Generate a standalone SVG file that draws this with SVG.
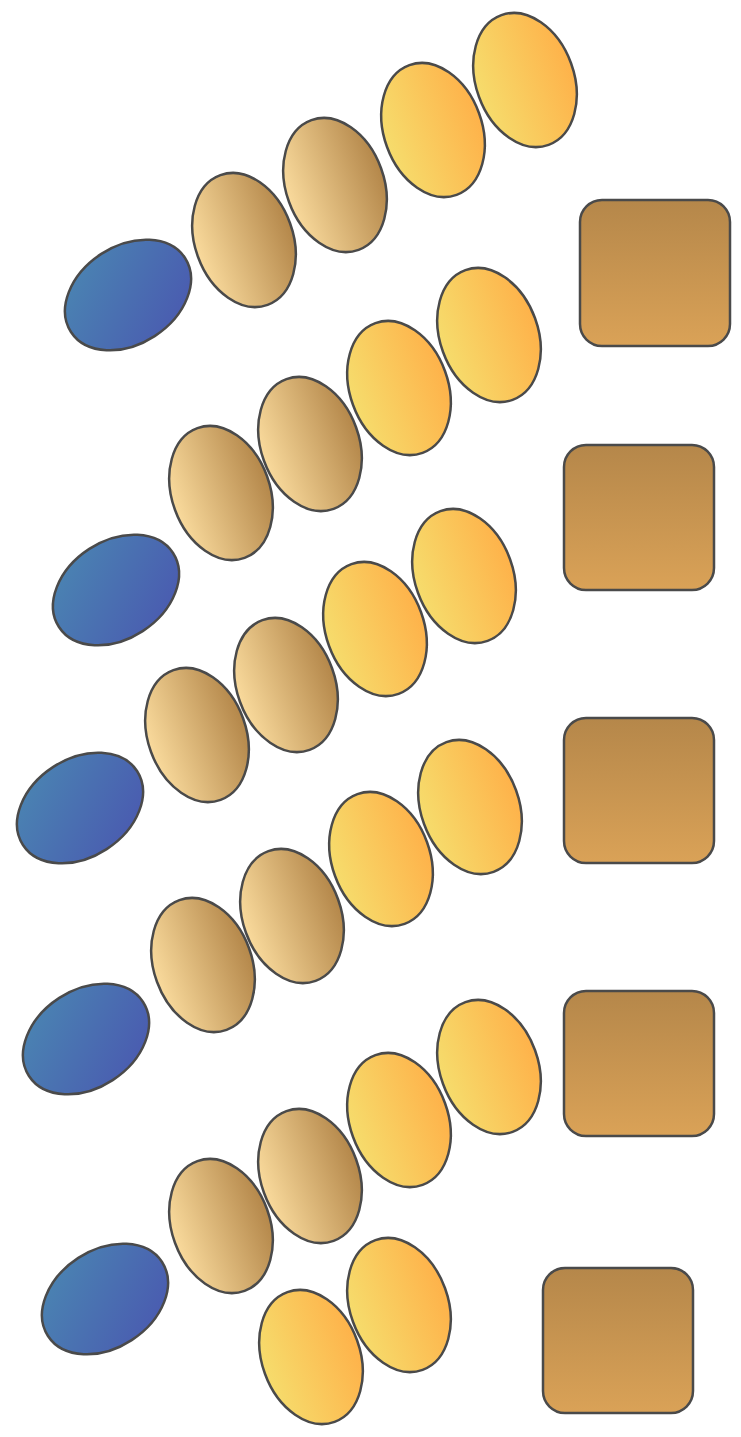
<svg xmlns="http://www.w3.org/2000/svg" width="741" height="1437" viewBox="0 0 741 1437">
<defs>
<linearGradient id="gBlue" x1="0.1" y1="0" x2="0.9" y2="1">
<stop offset="0" stop-color="#4a86b2"/>
<stop offset="1" stop-color="#4a58b0"/>
</linearGradient>
<linearGradient id="gTan" x1="0" y1="0" x2="1" y2="0">
<stop offset="0" stop-color="#f9da9c"/>
<stop offset="1" stop-color="#b4874a"/>
</linearGradient>
<linearGradient id="gYel" x1="0" y1="0" x2="1" y2="0">
<stop offset="0" stop-color="#f6dc6c"/>
<stop offset="1" stop-color="#feb24a"/>
</linearGradient>
<linearGradient id="gBox" x1="0" y1="0" x2="0" y2="1">
<stop offset="0" stop-color="#b5874a"/>
<stop offset="1" stop-color="#daa257"/>
</linearGradient>
<ellipse id="eB" cx="0" cy="0" rx="68" ry="49"/>
<ellipse id="eO" cx="0" cy="0" rx="49" ry="69"/>
</defs>
<style>
.s{stroke:#4a4a4a;stroke-width:2.5}
.b{fill:url(#gBlue)}
.t{fill:url(#gTan)}
.y{fill:url(#gYel)}
.r{fill:url(#gBox)}
</style>
<g id="connectors"/>
<!-- row 1 -->
<g id="r1-blue"><use href="#eB" class="s b" transform="translate(128,295) rotate(-33)"/></g>
<g id="r1-tan1"><use href="#eO" class="s t" transform="translate(244,240) rotate(-20)"/></g>
<g id="r1-tan2"><use href="#eO" class="s t" transform="translate(335,185) rotate(-20)"/></g>
<g id="r1-yel1"><use href="#eO" class="s y" transform="translate(433,130) rotate(-20)"/></g>
<g id="r1-yel2"><use href="#eO" class="s y" transform="translate(525,80) rotate(-20)"/></g>
<g id="r1-box"><rect x="580" y="200" width="150" height="146" rx="22" class="s r"/></g>
<!-- row 2 -->
<g id="r2-blue"><use href="#eB" class="s b" transform="translate(116,590) rotate(-33)"/></g>
<g id="r2-tan1"><use href="#eO" class="s t" transform="translate(221,493) rotate(-20)"/></g>
<g id="r2-tan2"><use href="#eO" class="s t" transform="translate(310,444) rotate(-20)"/></g>
<g id="r2-yel1"><use href="#eO" class="s y" transform="translate(399,388) rotate(-20)"/></g>
<g id="r2-yel2"><use href="#eO" class="s y" transform="translate(489,335) rotate(-20)"/></g>
<g id="r2-box"><rect x="564" y="445" width="150" height="145" rx="22" class="s r"/></g>
<!-- row 3 -->
<g id="r3-blue"><use href="#eB" class="s b" transform="translate(80,808) rotate(-33)"/></g>
<g id="r3-tan1"><use href="#eO" class="s t" transform="translate(197,735) rotate(-20)"/></g>
<g id="r3-tan2"><use href="#eO" class="s t" transform="translate(286,685) rotate(-20)"/></g>
<g id="r3-yel1"><use href="#eO" class="s y" transform="translate(375,629) rotate(-20)"/></g>
<g id="r3-yel2"><use href="#eO" class="s y" transform="translate(464,576) rotate(-20)"/></g>
<g id="r3-box"><rect x="564" y="718" width="150" height="145" rx="22" class="s r"/></g>
<!-- row 4 -->
<g id="r4-blue"><use href="#eB" class="s b" transform="translate(86,1039) rotate(-33)"/></g>
<g id="r4-tan1"><use href="#eO" class="s t" transform="translate(203,965) rotate(-20)"/></g>
<g id="r4-tan2"><use href="#eO" class="s t" transform="translate(292,916) rotate(-20)"/></g>
<g id="r4-yel1"><use href="#eO" class="s y" transform="translate(381,859) rotate(-20)"/></g>
<g id="r4-yel2"><use href="#eO" class="s y" transform="translate(470,807) rotate(-20)"/></g>
<g id="r4-box"><rect x="564" y="991" width="150" height="145" rx="22" class="s r"/></g>
<!-- row 5 -->
<g id="r5-blue"><use href="#eB" class="s b" transform="translate(105,1299) rotate(-33)"/></g>
<g id="r5-tan1"><use href="#eO" class="s t" transform="translate(221,1226) rotate(-20)"/></g>
<g id="r5-tan2"><use href="#eO" class="s t" transform="translate(310,1176) rotate(-20)"/></g>
<g id="r5-yel1"><use href="#eO" class="s y" transform="translate(399,1120) rotate(-20)"/></g>
<g id="r5-yel2"><use href="#eO" class="s y" transform="translate(489,1067) rotate(-20)"/></g>
<g id="r5-yel3"><use href="#eO" class="s y" transform="translate(311,1357) rotate(-20)"/></g>
<g id="r5-yel4"><use href="#eO" class="s y" transform="translate(399,1305) rotate(-20)"/></g>
<g id="r5-box"><rect x="543" y="1268" width="150" height="145" rx="22" class="s r"/></g>
</svg>
